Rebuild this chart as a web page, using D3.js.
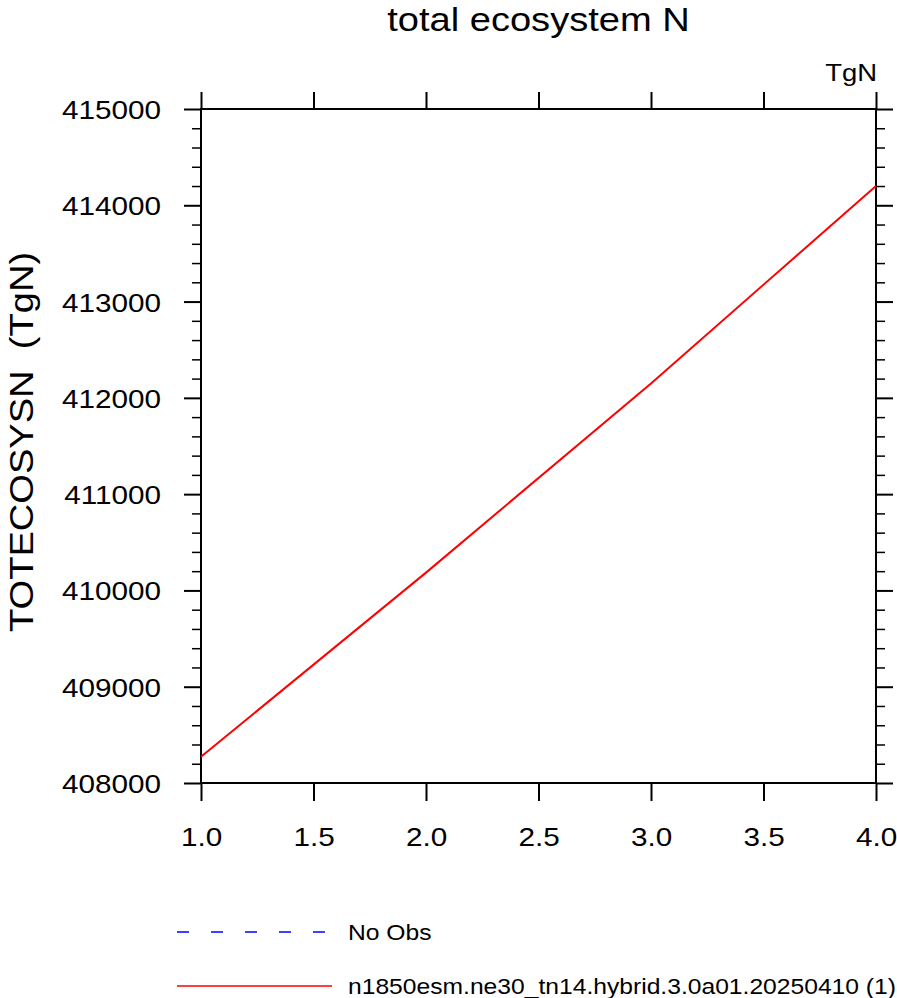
<!DOCTYPE html>
<html>
<head>
<meta charset="utf-8">
<script src="https://cdn.jsdelivr.net/npm/d3@7"></script>
<style>
  html, body { margin: 0; padding: 0; background: #fff; }
  svg { display: block; font-family: "Liberation Sans", Arial, Helvetica, sans-serif; }
  text { white-space: pre; }
</style>
</head>
<body>
<svg id="chart" width="897" height="998"></svg>
<script>
// ---- data ----
const years = [1, 2, 3, 4];
const totecosysn = [408273, 410185, 412150, 414200];
const xTicks = [1.0, 1.5, 2.0, 2.5, 3.0, 3.5, 4.0];
const yTicks = [408000, 409000, 410000, 411000, 412000, 413000, 414000, 415000];
const legendLabels = ["No Obs", "n1850esm.ne30_tn14.hybrid.3.0a01.20250410 (1)"];
const titleText = "total ecosystem N";
const yLabelText = "TOTECOSYSN  (TgN)";
const unitsText = "TgN";

// ---- layout ----
const L = 201, R = 876, T = 109, B = 783;
const svg = d3.select("#chart");
const x = d3.scaleLinear().domain([1, 4]).range([L, R]);
const y = d3.scaleLinear().domain([408000, 415000]).range([B, T]);
const K = 1.12; // horizontal stretch to mimic NCL Helvetica widths

function stretch(sel) {
  sel.each(function () {
    const n = this.getComputedTextLength();
    d3.select(this).attr("textLength", n * K).attr("lengthAdjust", "spacingAndGlyphs");
  });
  return sel;
}

const minorY = d3.range(408000, 415001, 200).filter(v => v % 1000 !== 0);

// axes with d3 axis generators
const axL = svg.append("g").attr("transform", `translate(${L},0)`)
  .call(d3.axisLeft(y).tickValues(yTicks).tickSize(17).tickFormat(d3.format("d")).tickPadding(23));
const axLm = svg.append("g").attr("transform", `translate(${L},0)`)
  .call(d3.axisLeft(y).tickValues(minorY).tickSize(9).tickFormat(""));
const axR = svg.append("g").attr("transform", `translate(${R},0)`)
  .call(d3.axisRight(y).tickValues(yTicks).tickSize(17).tickFormat(""));
const axRm = svg.append("g").attr("transform", `translate(${R},0)`)
  .call(d3.axisRight(y).tickValues(minorY).tickSize(9).tickFormat(""));
const axB = svg.append("g").attr("transform", `translate(0,${B})`)
  .call(d3.axisBottom(x).tickValues(xTicks).tickSize(18).tickFormat(d3.format(".1f")).tickPadding(26));
const axT = svg.append("g").attr("transform", `translate(0,${T})`)
  .call(d3.axisTop(x).tickValues(xTicks).tickSize(17).tickFormat(""));

[axL, axLm, axR, axRm, axB, axT].forEach(g => {
  g.select(".domain").remove();
  g.selectAll(".tick line").attr("stroke", "#000");
});
[axL, axR, axB, axT].forEach(g => g.selectAll(".tick line").attr("stroke-width", 2));
[axLm, axRm].forEach(g => g.selectAll(".tick line").attr("stroke-width", 1.5));

axL.selectAll(".tick text").attr("font-size", 26.5).attr("fill", "#000")
  .attr("font-family", "Liberation Sans, Arial, sans-serif").attr("dy", "0.36em");
axB.selectAll(".tick text").attr("font-size", 26.5).attr("fill", "#000")
  .attr("font-family", "Liberation Sans, Arial, sans-serif").attr("dy", "0.71em");
stretch(axL.selectAll(".tick text"));
stretch(axB.selectAll(".tick text"));

// frame
svg.append("rect").attr("x", L).attr("y", T).attr("width", R - L).attr("height", B - T)
  .attr("fill", "none").attr("stroke", "#000").attr("stroke-width", 2);

// data line
const line = d3.line().x((d, i) => x(years[i])).y(d => y(d));
svg.append("path").datum(totecosysn).attr("d", line)
  .attr("fill", "none").attr("stroke", "#ff0000").attr("stroke-width", 2);

// title
stretch(svg.append("text").attr("x", (L + R) / 2).attr("y", 31).attr("text-anchor", "middle")
  .attr("font-size", 34).text(titleText));
// units
stretch(svg.append("text").attr("x", 877).attr("y", 81).attr("text-anchor", "end")
  .attr("font-size", 24.5).text(unitsText));
// y label
stretch(svg.append("text").attr("transform", `translate(33,${(T + B) / 2 - 4}) rotate(-90)`)
  .attr("text-anchor", "middle").attr("font-size", 34).attr("xml:space", "preserve").text(yLabelText));

// legend
const legY = [932, 986];
const legColors = ["#0000ff", "#ff0000"];
const legDash = ["12,22", null];
legendLabels.forEach((lab, i) => {
  svg.append("line").attr("x1", 177).attr("x2", 332).attr("y1", legY[i]).attr("y2", legY[i])
    .attr("stroke", legColors[i]).attr("stroke-width", 1.5)
    .attr("stroke-dasharray", legDash[i]);
  stretch(svg.append("text").attr("x", 348).attr("y", legY[i] + 8).attr("font-size", 22).text(lab));
});
</script>
</body>
</html>
